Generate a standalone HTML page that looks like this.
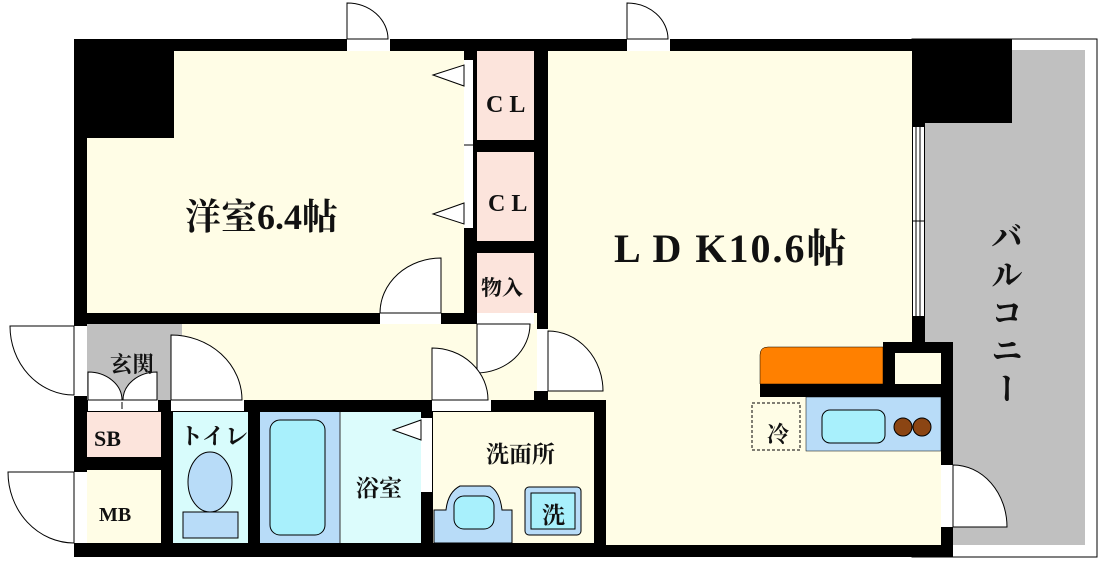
<!DOCTYPE html>
<html><head><meta charset="utf-8"><style>
html,body{margin:0;padding:0;background:#fff;}
svg{display:block;}
text{font-family:"Liberation Serif","Noto Serif CJK SC",serif;font-weight:bold;fill:#111;}
</style></head><body>
<svg width="1104" height="564" viewBox="0 0 1104 564" xmlns="http://www.w3.org/2000/svg">
<rect x="912" y="39" width="185" height="518" fill="#fff" stroke="#000" stroke-width="1"/>
<rect x="924" y="50" width="161" height="495" fill="#c0c0c0"/>
<rect x="74" y="39" width="938" height="84" fill="#000"/>
<rect x="74" y="39" width="879" height="518" fill="#000"/>
<rect x="912" y="123" width="13" height="220" fill="#000"/>
<rect x="925" y="123" width="160" height="220" fill="#c0c0c0"/>
<rect x="953" y="343" width="132" height="202" fill="#c0c0c0"/>
<rect x="953" y="545" width="132" height="12" fill="#fff"/>
<rect x="1085" y="50" width="12" height="507" fill="#fff"/>
<rect x="1012" y="40" width="85" height="10" fill="#fff"/>
<line x1="1097" y1="39" x2="1097" y2="557" stroke="#000"/>
<line x1="953" y1="557" x2="1097" y2="557" stroke="#000"/>
<line x1="1012" y1="39" x2="1097" y2="39" stroke="#000"/>
<!-- 洋室 -->
<path d="M174 51 H464 V313 H87 V138 H174 Z" fill="#fffde6"/>
<rect x="477" y="51" width="57" height="89" fill="#fce4dc"/>
<rect x="477" y="152" width="57" height="89" fill="#fce4dc"/>
<rect x="477" y="253" width="57" height="60" fill="#fce4dc"/>
<!-- LDK -->
<rect x="548" y="51" width="364" height="292" fill="#fffde6"/>
<rect x="548" y="343" width="393" height="57" fill="#fffde6"/>
<rect x="606" y="343" width="335" height="202" fill="#fffde6"/>
<!-- hallway -->
<rect x="87" y="324" width="447" height="76" fill="#fffde6"/>
<rect x="477" y="313" width="60" height="87" fill="#fffde6"/>
<rect x="534" y="391" width="14" height="9" fill="#000"/>
<rect x="548" y="400" width="58" height="11" fill="#000"/>
<rect x="87" y="324" width="95" height="76" fill="#c0c0c0"/>
<!-- lower rooms -->
<rect x="87" y="412" width="74" height="45" fill="#fce4dc"/>
<rect x="87" y="470" width="74" height="73" fill="#fffde6"/>
<rect x="173" y="412" width="75" height="131" fill="#d8fcfc"/>
<rect x="260" y="412" width="80" height="131" fill="#b8dcf8"/>
<rect x="340" y="412" width="81" height="131" fill="#dcfcfc"/>
<line x1="340" y1="412" x2="340" y2="543" stroke="#333" stroke-width="1"/>
<rect x="433" y="412" width="161" height="131" fill="#fffde6"/>
<!-- windows -->
<rect x="913" y="127" width="11" height="189" fill="#fff"/>
<line x1="916" y1="127" x2="916" y2="316" stroke="#000" stroke-width="1"/>
<line x1="920" y1="127" x2="920" y2="316" stroke="#000" stroke-width="1"/>
<line x1="913" y1="221" x2="924" y2="221" stroke="#000" stroke-width="1"/>
<rect x="464" y="60" width="9" height="168" fill="#fff"/>
<line x1="464" y1="145" x2="477" y2="145" stroke="#000"/>
<polygon points="433,75 464,65 464,86" fill="#fff" stroke="#000"/>
<polygon points="433,214 464,203 464,224" fill="#fff" stroke="#000"/>
<rect x="421" y="418" width="11" height="74" fill="#fff"/>
<polygon points="393,430 421,420 421,440" fill="#fff" stroke="#000"/>
<g fill="#fff" stroke="#000" stroke-width="1">
<rect x="347" y="39" width="43" height="12" stroke="none"/>
<path d="M347 39 V3 A41 36 0 0 1 388 39 Z"/>
<rect x="627" y="39" width="43" height="12" stroke="none"/>
<path d="M627 39 V3 A41 36 0 0 1 668 39 Z"/>
<rect x="380" y="313" width="61" height="11" stroke="none"/>
<path d="M441 313 V258 A61 55 0 0 0 380 313 Z"/>
<rect x="477" y="313" width="57" height="11" stroke="none"/>
<path d="M477 324 V373 A54 49 0 0 0 530 324 Z"/>
<rect x="537" y="329" width="11" height="62" stroke="none"/>
<path d="M548 391 V331 A55 60 0 0 1 603 391 Z"/>
<rect x="432" y="400" width="59" height="11" stroke="none"/>
<path d="M432 400 V348 A56 52 0 0 1 488 400 Z"/>
<rect x="171" y="400" width="73" height="11" stroke="none"/>
<path d="M171 400 V335 A71 65 0 0 1 242 400 Z"/>
<rect x="88" y="400" width="70" height="11" stroke="none"/>
<path d="M88 400 V372 A34 28 0 0 1 122 400 Z"/>
<path d="M157 400 V372 A34 28 0 0 0 123 400 Z"/>
<line x1="122" y1="402" x2="122" y2="409"/>
<rect x="74" y="326" width="13" height="70" stroke="none"/>
<path d="M74 326 H10 A64 69 0 0 0 74 395 Z"/>
<rect x="74" y="472" width="13" height="71" stroke="none"/>
<path d="M74 472 H8 A66 71 0 0 0 74 543 Z"/>
<rect x="941" y="465" width="12" height="62" stroke="none"/>
<path d="M953 527 V465 A54 62 0 0 1 1007 527 Z"/>
</g>
<!-- kitchen -->
<rect x="883" y="342" width="70" height="55" fill="#000"/>
<rect x="760" y="384" width="181" height="13" fill="#000"/>
<rect x="895" y="353" width="46" height="31" fill="#fffde6"/>
<path d="M768 347 H883 V384 H760 V355 Q760 347 768 347 Z" fill="#ff8000" stroke="#000" stroke-width="0.5"/>
<rect x="806" y="397" width="135" height="54" fill="#b8dcf8" stroke="#000" stroke-width="0.5"/>
<rect x="822" y="410" width="63" height="33" rx="8" fill="#a8f0fc" stroke="#000"/>
<circle cx="903" cy="427" r="9" fill="#8b4513" stroke="#000"/>
<circle cx="922" cy="427" r="9" fill="#8b4513" stroke="#000"/>
<rect x="752" y="403" width="48" height="47" fill="none" stroke="#000" stroke-dasharray="3,2"/>
<text x="767" y="442" font-size="22">冷</text>
<ellipse cx="210" cy="482" rx="22" ry="30" fill="#b8dcf8" stroke="#000"/>
<rect x="183" y="512" width="55" height="26" fill="#b8dcf8" stroke="#000"/>
<rect x="270" y="420" width="55" height="115" rx="10" fill="#a8f0fc" stroke="#000"/>
<path d="M434 543 V510 H446 Q448 492 460 486 H490 Q500 492 502 510 H512 V543 Z" fill="#b8dcf8" stroke="#000"/>
<rect x="454" y="496" width="40" height="33" rx="10" fill="#a8f0fc" stroke="#000"/>
<rect x="525" y="487" width="56" height="48" rx="4" fill="#b8dcf8" stroke="#000"/>
<rect x="531" y="493" width="44" height="36" fill="#a8f0fc" stroke="#000"/>
<!-- labels -->
<text x="185" y="229" font-size="36">洋室6.4帖</text>
<text x="486" y="112" font-size="24">C L</text>
<text x="488" y="211" font-size="24">C L</text>
<text x="481" y="295" font-size="21">物入</text>
<text x="614" y="262" font-size="40" letter-spacing="2">L D K10.6帖</text>
<text x="110" y="372" font-size="22">玄関</text>
<text x="94" y="446" font-size="22">SB</text>
<text x="99" y="521" font-size="20">MB</text>
<text x="180" y="444" font-size="23">トイレ</text>
<text x="356" y="496" font-size="23">浴室</text>
<text x="486" y="462" font-size="23">洗面所</text>
<text x="542" y="523" font-size="23">洗</text>
<text font-size="32" x="1005" y="220" letter-spacing="6" style="writing-mode:vertical-rl">バルコニー</text>
</svg>
</body></html>
